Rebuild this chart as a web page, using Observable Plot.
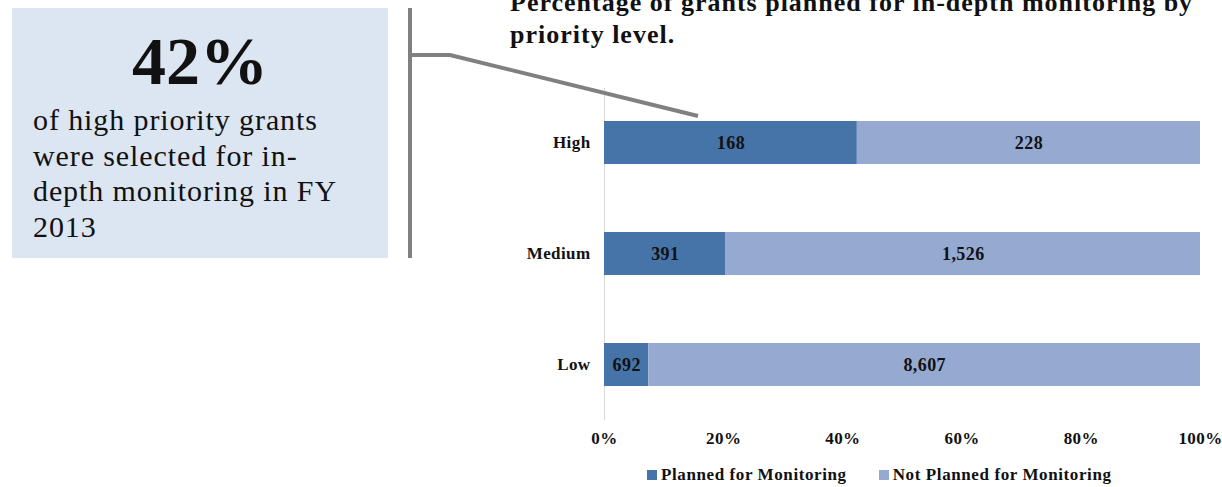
<!DOCTYPE html>
<html>
<head>
<meta charset="utf-8">
<script src="https://cdn.jsdelivr.net/npm/d3@7"></script>
<script src="https://cdn.jsdelivr.net/npm/@observablehq/plot@0.6"></script>
<style>
  html, body { margin: 0; padding: 0; background: #fff; }
  body { width: 1222px; height: 487px; position: relative; overflow: hidden; font-family: "Liberation Serif", serif; color: #111; }
  #box { position: absolute; left: 12px; top: 8px; width: 376px; height: 250px; background: #dce6f2; }
  #big { position: absolute; left: 0; width: 376px; top: 13px; text-align: center; font-family: "Liberation Serif", serif; font-size: 68px; font-weight: bold; line-height: 80px; }
  #body { position: absolute; left: 21px; top: 94px; font-family: "Liberation Serif", serif; font-size: 30px; line-height: 35.5px; letter-spacing: 0.9px; }
  #title { position: absolute; left: 510px; top: -13px; font-family: "Liberation Serif", serif; font-size: 26px; font-weight: bold; line-height: 32px; letter-spacing: 1px; white-space: nowrap; }
  #chart { position: absolute; left: 500px; top: 80px; }
  #legend { position: absolute; left: 647px; top: 465px; font-family: "Liberation Serif", serif; font-size: 17px; font-weight: bold; letter-spacing: 0.6px; white-space: nowrap; }
  #legend span.sw { display: inline-block; width: 10px; height: 10px; margin-right: 4px; vertical-align: 0px; }
  #legend span.item { margin-right: 32px; }
  #deco { position: absolute; left: 0; top: 0; pointer-events: none; }
</style>
</head>
<body>
<div id="box">
  <div id="big">42%</div>
  <div id="body">of high priority grants<br>were selected for in-<br>depth monitoring in FY<br>2013</div>
</div>
<div id="title">Percentage of grants planned for in-depth monitoring by<br>priority level.</div>
<div id="chart"></div>
<div id="legend"></div>
<svg id="deco" width="1222" height="487">
  <line x1="410" y1="8" x2="410" y2="258" stroke="#808080" stroke-width="4"/>
  <polyline points="410,55 450,55 698,116" fill="none" stroke="#808080" stroke-width="4"/>
</svg>
<script>
const categories = ["High", "Medium", "Low"];
const seriesNames = ["Planned for Monitoring", "Not Planned for Monitoring"];
const planned = [168, 391, 692];
const notPlanned = [228, 1526, 8607];
const xTicks = [0, 0.2, 0.4, 0.6, 0.8, 1];
const colors = ["#4673a8", "#95a9d1"];

const rows = [];
categories.forEach((c, i) => {
  rows.push({cat: c, series: seriesNames[0], value: planned[i]});
  rows.push({cat: c, series: seriesNames[1], value: notPlanned[i]});
});

const fmt = d3.format(",");
const chart = Plot.plot({
  width: 722,
  height: 380,
  marginLeft: 104,
  marginRight: 22,
  marginTop: 8,
  marginBottom: 40,
  style: {fontFamily: "Liberation Serif, serif", fontSize: "17px", fontWeight: "bold", letterSpacing: "0.4px", color: "#111", background: "transparent", overflow: "visible"},
  x: {domain: [0, 1], ticks: xTicks, tickFormat: d => Math.round(d * 100) + "%", label: null, tickSize: 0, tickPadding: 11},
  y: {domain: categories, paddingInner: 0.61, paddingOuter: 0.3, label: null, tickSize: 0, tickPadding: 14},
  color: {domain: seriesNames, range: colors},
  marks: [
    Plot.ruleX([0], {stroke: "#d9d9d9"}),
    Plot.barX(rows, Plot.stackX({offset: "normalize", x: "value", y: "cat", fill: "series"})),
    Plot.text(rows, Plot.stackX({offset: "normalize", x: "value", y: "cat", text: d => fmt(d.value), fill: "#111", fontSize: 18, fontWeight: "bold"}))
  ]
});
document.getElementById("chart").appendChild(chart);

const legend = document.getElementById("legend");
seriesNames.forEach((s, i) => {
  const item = document.createElement("span");
  item.className = "item";
  const sw = document.createElement("span");
  sw.className = "sw";
  sw.style.background = colors[i];
  item.appendChild(sw);
  item.appendChild(document.createTextNode(s));
  legend.appendChild(item);
});
</script>
</body>
</html>
